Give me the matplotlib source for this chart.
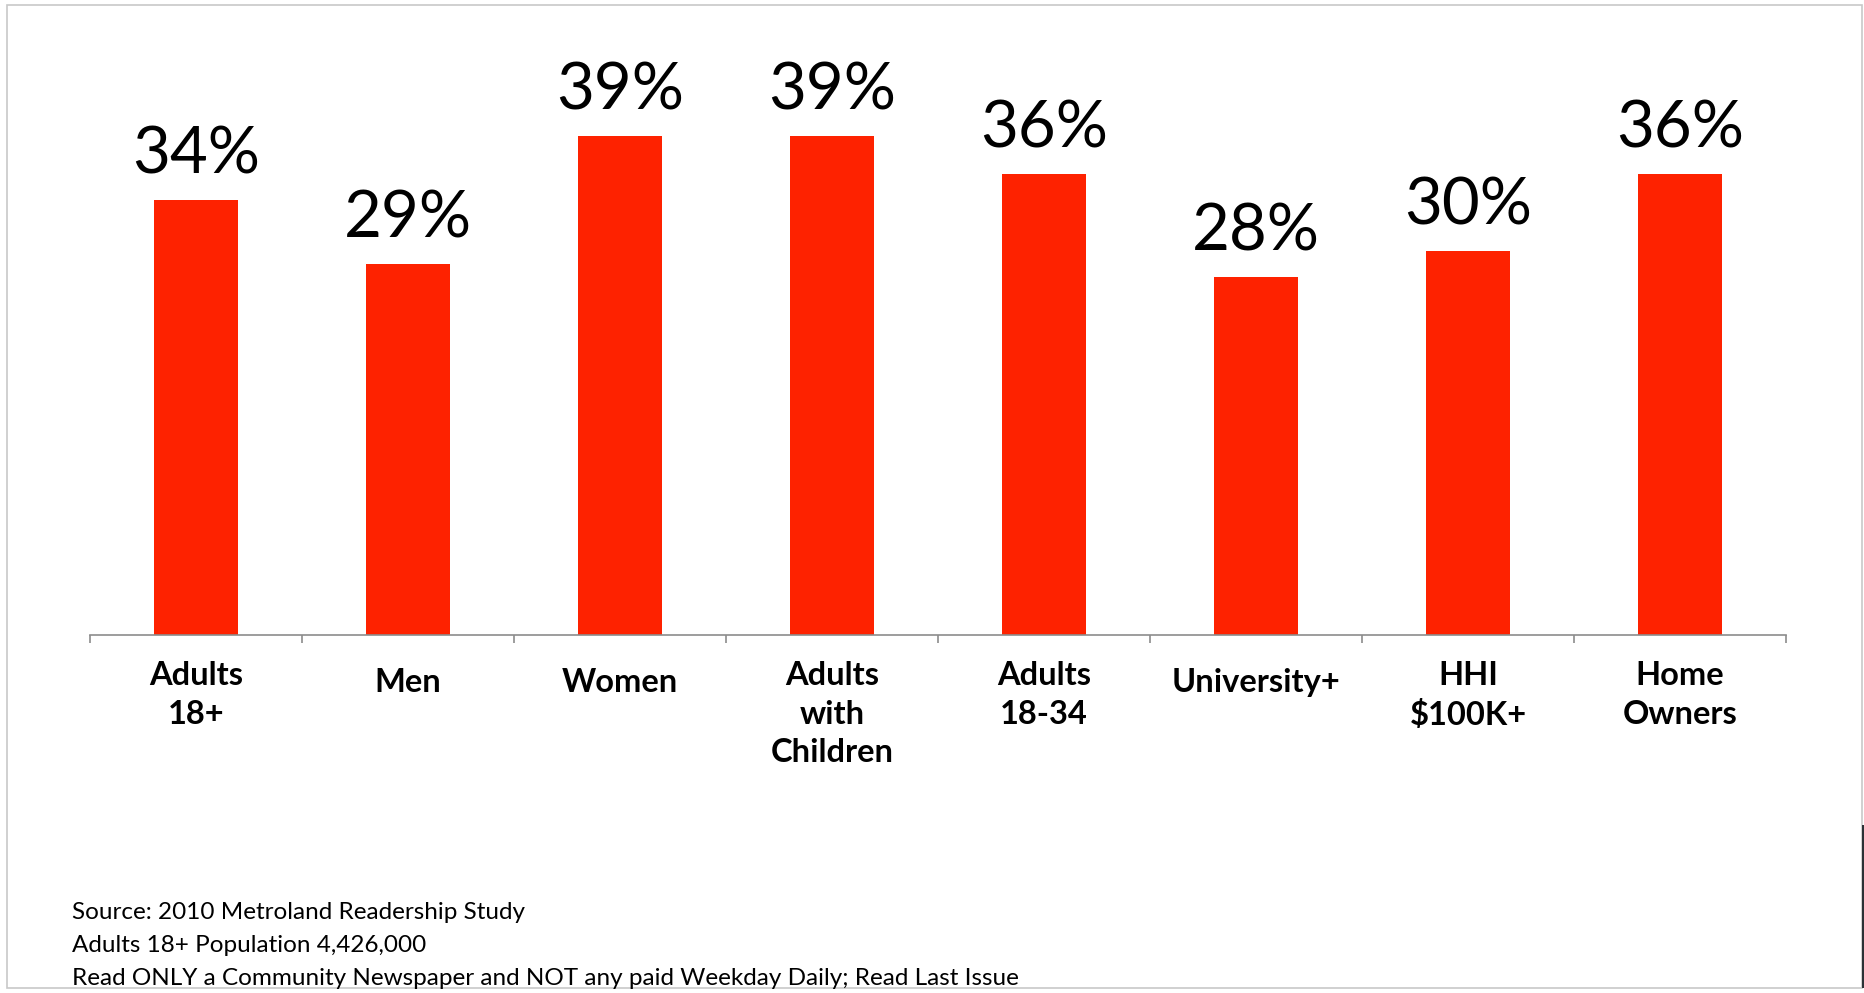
import numpy as np
import matplotlib
matplotlib.use('Agg')
import matplotlib.pyplot as plt
from matplotlib.patches import Rectangle

categories = ['Adults\n18+', 'Men', 'Women', 'Adults\nwith\nChildren',
              'Adults\n18-34', 'University+', 'HHI\n$100K+', 'Home\nOwners']
values = [34, 29, 39, 39, 36, 28, 30, 36]
value_labels = ['34%', '29%', '39%', '39%', '36%', '28%', '30%', '36%']
notes = ['Source: 2010 Metroland Readership Study',
         'Adults 18+ Population 4,426,000',
         'Read ONLY a Community Newspaper and NOT any paid Weekday Daily; Read Last Issue']

plt.rcParams['font.family'] = ['Lato', 'DejaVu Sans']
bar_color = '#fe2200'

W, H = 1865, 993
fig = plt.figure(figsize=(W/100., H/100.), dpi=100)
# axes placed in pixel terms: x from 90 to 1786, baseline at y=635
ax = fig.add_axes([90./W, (H-635.)/H, 1696./W, 576./H])

x = np.arange(len(values))
ax.bar(x, values, width=0.40, color=bar_color, zorder=2)
for xi, v, lab in zip(x, values, value_labels):
    ax.annotate(lab, xy=(xi, v), xytext=(0, 19), textcoords='offset points',
                ha='center', va='baseline', fontsize=47, color='black')

# category labels under the axis; one-line labels sit a little lower
for xi, cat in zip(x, categories):
    off = -19 if '\n' in cat else -24
    ax.annotate(cat, xy=(xi, 0), xytext=(0, off), textcoords='offset points',
                ha='center', va='top', fontsize=23.5, fontweight='bold',
                linespacing=1.38, color='black', annotation_clip=False)

ax.set_xlim(-0.5, len(values)-0.5)
ax.set_ylim(0, 45)
for s in ['top', 'right', 'left']:
    ax.spines[s].set_visible(False)
ax.spines['bottom'].set_color('#8c8c8c')
ax.spines['bottom'].set_linewidth(1.2)
ax.set_yticks([])
ax.set_xticks(np.arange(len(values)+1)-0.5)
ax.set_xticklabels([])
ax.tick_params(axis='x', length=6, width=1.2, color='#8c8c8c', direction='out')

for i, line in enumerate(notes):
    fig.text(72./W, 1-(919.+33*i)/H, line, fontsize=17.5, ha='left', va='baseline', color='black')

# light frame round the slide
fig.patches.append(Rectangle((7./W, 5./H), 1855./W, 983./H, transform=fig.transFigure,
                             fill=False, edgecolor='#c8c8c8', linewidth=1.2))
fig.patches.append(Rectangle((1862./W, 5./H), 3./W, 163./H, transform=fig.transFigure,
                             facecolor='#2b3236', edgecolor='none'))

fig.savefig('out.png', dpi=100)
